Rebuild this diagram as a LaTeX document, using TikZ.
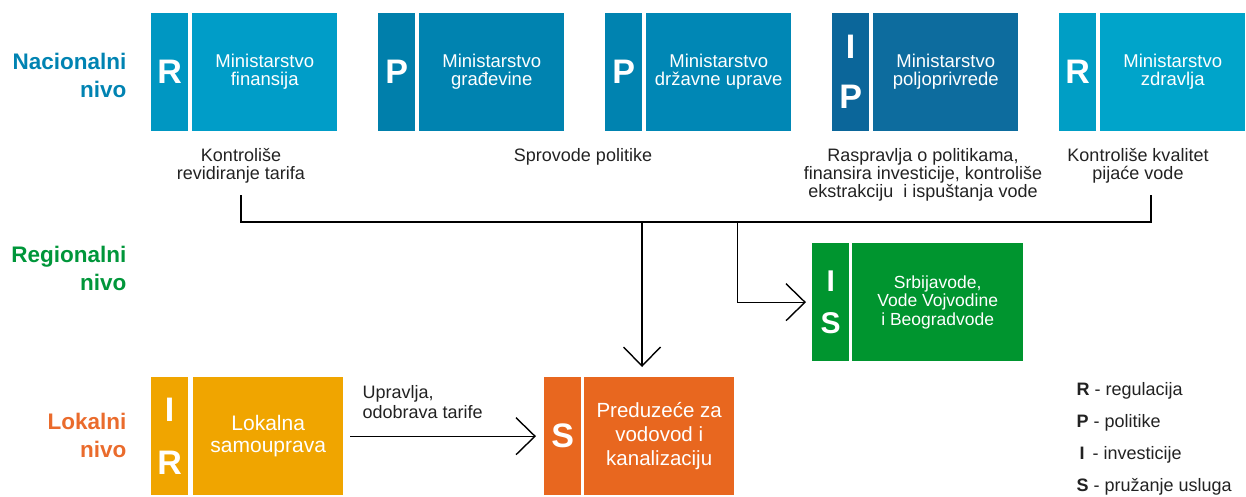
\documentclass[tikz,border=0pt]{standalone}
\usepackage{fontspec}
\setmainfont{Liberation Sans}
\usetikzlibrary{arrows.meta}
\definecolor{finL}{HTML}{0097C2}
\definecolor{finM}{HTML}{009DC8}
\definecolor{graL}{HTML}{007FAB}
\definecolor{graM}{HTML}{0083B0}
\definecolor{drzL}{HTML}{0083B0}
\definecolor{drzM}{HTML}{0087B5}
\definecolor{polL}{HTML}{0B669A}
\definecolor{polM}{HTML}{0D6C9E}
\definecolor{zdrL}{HTML}{009EC5}
\definecolor{zdrM}{HTML}{00A4CA}
\definecolor{grn}{HTML}{00952F}
\definecolor{ylw}{HTML}{F0A500}
\definecolor{orn}{HTML}{E8671F}
\definecolor{lvNac}{HTML}{0083B2}
\definecolor{lvReg}{HTML}{00963A}
\definecolor{lvLok}{HTML}{EA6B2C}
\definecolor{txt}{HTML}{222222}
\begin{document}
\begin{tikzpicture}[x=1pt,y=-1pt,
  letterbox/.style={fill=#1, text=white, font=\fontsize{34}{48}\selectfont\bfseries,
    minimum width=37pt, minimum height=118pt, anchor=north west, inner sep=0pt, align=center},
  mainbox/.style={fill=#1, text=white, font=\fontsize{18.5}{18}\selectfont,
    minimum width=145pt, minimum height=118pt, anchor=north west, inner sep=0pt, align=center},
  desc/.style={font=\fontsize{18}{18}\selectfont, align=center, text=txt, anchor=north},
  level/.style={font=\fontsize{22.5}{28}\selectfont\bfseries, align=right, anchor=north east},
  legend/.style={font=\fontsize{18}{18}\selectfont, anchor=west, text=txt},
  conn/.style={line width=1.4pt, black},
  vtip/.style={-{Straight Barb[length=19pt, width=37pt, line width=1.4pt]}}]
\useasboundingbox (0,0) rectangle (1246,496);

% level labels
\node[level, text=lvNac] (lvn) at (130,50) {Nacionalni\\nivo};
\node[level, text=lvReg] (lvr) at (130,243) {Regionalni\\nivo};
\node[level, text=lvLok] (lvl) at (130,410) {Lokalni\\nivo};

% national boxes
\node[letterbox=finL] (l1) at (151,13) {R};
\node[mainbox=finM] (m1) at (192,13) {Ministarstvo\\finansija};
\node[letterbox=graL] (l2) at (378,13) {P};
\node[mainbox=graM] (m2) at (419,13) {Ministarstvo\\građevine};
\node[letterbox=drzL] (l3) at (605,13) {P};
\node[mainbox=drzM] (m3) at (646,13) {Ministarstvo\\državne uprave};
\node[letterbox=polL, font=\fontsize{34}{50}\selectfont\bfseries] (l4) at (832,13) {I\\P};
\node[mainbox=polM] (m4) at (873,13) {Ministarstvo\\poljoprivrede};
\node[letterbox=zdrL] (l5) at (1059,13) {R};
\node[mainbox=zdrM] (m5) at (1100,13) {Ministarstvo\\zdravlja};

% descriptions
\node[desc] (d1) at (241,145) {Kontroliše\\revidiranje tarifa};
\node[desc] (d2) at (583,145) {Sprovode politike};
\node[desc] (d4) at (923,145) {Raspravlja o politikama,\\finansira investicije, kontroliše\\ekstrakciju\ \ i ispuštanja vode};
\node[desc] (d5) at (1138,145) {Kontroliše kvalitet\\pijaće vode};

% regional box
\node[letterbox=grn, minimum height=118pt, font=\fontsize{30}{42}\selectfont\bfseries] (l6) at (812,243) {I\\S};
\node[mainbox=grn, minimum width=171pt, font=\fontsize{17.5}{18.5}\selectfont] (m6) at (852,243) {Srbijavode,\\Vode Vojvodine\\i Beogradvode};

% local boxes
\node[letterbox=ylw, font=\fontsize{34}{53}\selectfont\bfseries] (l8) at (151,377) {I\\R};
\node[mainbox=ylw, minimum width=150pt, font=\fontsize{21}{22}\selectfont] (m8) at (193,377) {Lokalna\\samouprava};
\node[letterbox=orn, minimum width=37pt] (l9) at (544,377) {S};
\node[mainbox=orn, minimum width=150pt, font=\fontsize{20.5}{24}\selectfont] (m9) at (584,377) {Preduzeće za\\vodovod i\\kanalizaciju};

% connectors
\coordinate (a1) at (241,195);
\coordinate (a2) at (241,222);
\coordinate (a3) at (1151,222);
\coordinate (a4) at (1151,195);
\coordinate (jd) at (642,222);
\coordinate (jb) at (737.5,222);
\draw[conn] (a1) -- (a2) -- (a3) -- (a4);
\draw[conn, vtip, shorten >=10pt] (jd) -- (jd |- m9.north);
\draw[conn, vtip, shorten >=6pt] (jb) |- (l6.west);
\draw[conn, vtip, shorten <=7pt, shorten >=8pt] (m8.east) -- (l9.west);
\node[font=\fontsize{18}{20}\selectfont, align=left, anchor=south west, text=txt] (lab) at (359,422) {Upravlja,\\odobrava tarife};

% legend
\node[legend] (g1) at (1073,391) {\textbf{R} - regulacija};
\node[legend] (g2) at (1073,423) {\textbf{P} - politike};
\node[legend] (g3) at (1073,455) {\,\textbf{I}\, - investicije};
\node[legend] (g4) at (1073,487) {\textbf{S} - pružanje usluga};
\end{tikzpicture}
\end{document}
